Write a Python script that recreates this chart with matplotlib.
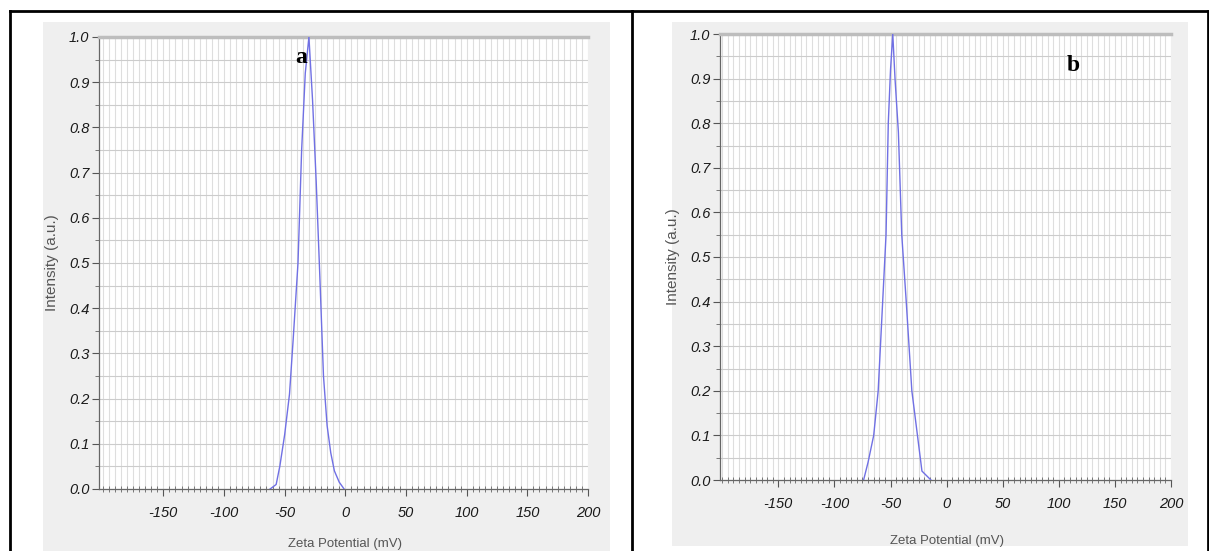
import matplotlib
matplotlib.use("Agg")
import matplotlib.pyplot as plt
import numpy as np
from matplotlib.patches import Rectangle
from matplotlib.lines import Line2D
from matplotlib.ticker import MultipleLocator

# zeta potential distributions
zeta_a = [-62, -57, -54, -50, -46, -43, -39, -36, -33, -30, -27, -24, -21, -18, -15, -12, -9, -5, -1]
intensity_a = [0.0, 0.01, 0.05, 0.12, 0.21, 0.33, 0.50, 0.75, 0.92, 1.0, 0.86, 0.68, 0.47, 0.25, 0.14, 0.08, 0.04, 0.015, 0.0]

zeta_b = [-74, -70, -65, -61, -57, -54, -52, -50, -48, -46, -43, -40, -36, -31, -26, -22, -18, -14]
intensity_b = [0.0, 0.04, 0.10, 0.20, 0.40, 0.55, 0.80, 0.92, 1.0, 0.90, 0.78, 0.55, 0.40, 0.20, 0.10, 0.02, 0.01, 0.0]

x_ticks = [-150, -100, -50, 0, 50, 100, 150, 200]
x_tick_labels = ["-150", "-100", "-50", "0", "50", "100", "150", "200"]
y_ticks = [0.0, 0.1, 0.2, 0.3, 0.4, 0.5, 0.6, 0.7, 0.8, 0.9, 1.0]
y_tick_labels = ["0.0", "0.1", "0.2", "0.3", "0.4", "0.5", "0.6", "0.7", "0.8", "0.9", "1.0"]

W, H = 1209, 551
fig = plt.figure(figsize=(W / 100, H / 100), dpi=100)
fig.patch.set_facecolor("white")


def rect(x0, y0, x1, y1):
    # pixel box (top-left origin) -> figure fraction [left, bottom, width, height]
    return [x0 / W, 1 - y1 / H, (x1 - x0) / W, (y1 - y0) / H]


def fig_line(xs, ys, **kw):
    fig.add_artist(Line2D([x / W for x in xs], [1 - y / H for y in ys],
                          transform=fig.transFigure, **kw))


# grey screenshot backgrounds
for box in [(43, 22, 610, 551), (672, 22, 1188, 546)]:
    x0, y0, x1, y1 = box
    fig.add_artist(Rectangle((x0 / W, 1 - y1 / H), (x1 - x0) / W, (y1 - y0) / H,
                             transform=fig.transFigure, facecolor="#efefef",
                             edgecolor="none", zorder=0))

# table borders
fig_line([10, 1209], [11, 11], color="black", lw=2)
fig_line([10, 10], [11, 551], color="black", lw=2)
fig_line([632, 632], [11, 551], color="black", lw=2)
fig_line([1208, 1208], [11, 551], color="black", lw=2)

tick_font = dict(family=["Liberation Sans", "DejaVu Sans"], style="italic", size=10.5, color="#1a1a1a")
label_font = dict(family=["Liberation Sans", "DejaVu Sans"], size=9.5, color="#555555")

panels = [
    (rect(99, 37, 588, 489), (-203, 200), zeta_a, intensity_a, "a", (-36, 0.955), 550),
    (rect(720, 34, 1171, 480), (-202, 200), zeta_b, intensity_b, "b", (113, 0.93), 547),
]

for pos, xlim, xs, ys, tag, tag_xy, xlabel_y in panels:
    ax = fig.add_axes(pos)
    ax.set_facecolor("white")
    ax.plot(xs, ys, color="#7070e4", lw=1.0, zorder=3)
    ax.set_xlim(*xlim)
    ax.set_ylim(0, 1.0)

    ax.set_xticks(x_ticks)
    ax.set_xticklabels(x_tick_labels, **tick_font)
    ax.xaxis.set_minor_locator(MultipleLocator(5))
    ax.set_yticks(y_ticks)
    ax.set_yticklabels(y_tick_labels, **tick_font)
    ax.yaxis.set_minor_locator(MultipleLocator(0.05))

    ax.grid(which="both", axis="x", color="#dedede", lw=0.8)
    ax.grid(which="both", axis="y", color="#cccccc", lw=0.8)
    ax.set_axisbelow(True)

    ax.tick_params(axis="both", which="major", length=5, width=0.8, color="#555555")
    ax.tick_params(axis="x", which="major", pad=7)
    ax.tick_params(axis="y", which="major", pad=2)
    ax.tick_params(axis="x", which="minor", direction="inout", length=4, width=0.7, color="#777777")
    ax.tick_params(axis="y", which="minor", length=3, width=0.7, color="#777777")

    for side in ["left", "bottom"]:
        ax.spines[side].set_color("#666666")
        ax.spines[side].set_linewidth(0.9)
    ax.spines["top"].set_color("#bdbdbd")
    ax.spines["top"].set_linewidth(2.5)
    ax.spines["right"].set_visible(False)

    ax.set_ylabel("Intensity (a.u.)", labelpad=7, family=["Liberation Sans", "DejaVu Sans"],
                  size=11, color="#555555")
    ax.text(tag_xy[0], tag_xy[1], tag, family=["Liberation Serif", "DejaVu Serif"],
            weight="bold", size=17, ha="center", va="center", zorder=5)

    # x label sits at the very bottom of each screenshot
    cx = pos[0] + pos[2] * (0 - xlim[0]) / (xlim[1] - xlim[0])
    fig.text(cx, 1 - xlabel_y / H, "Zeta Potential (mV)", ha="center", va="bottom", **label_font)

fig.savefig("out.png", dpi=100, facecolor="white")
